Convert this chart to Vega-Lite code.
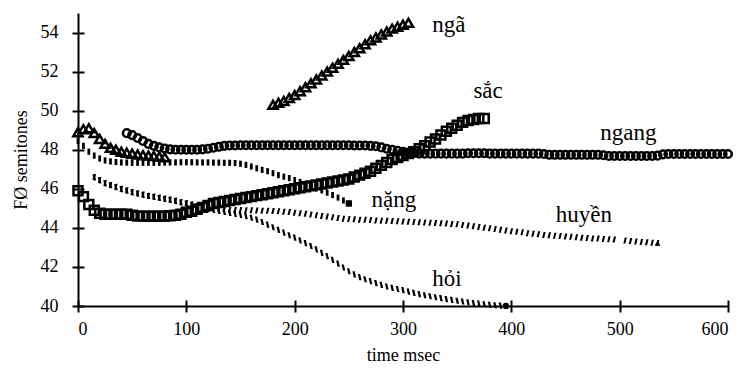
{
  "$schema": "https://vega.github.io/schema/vega-lite/v6.json",
  "width": 650,
  "height": 293,
  "autosize": "none",
  "padding": {"left": 78, "top": 13, "right": 12, "bottom": 63},
  "background": "white",
  "config": {
    "view": {"stroke": null},
    "font": "'Liberation Serif', 'Times New Roman', 'DejaVu Serif', serif"
  },
  "datasets": {
    "ngang": [
      {"t":45,"v":48.85},{"t":50,"v":48.75},{"t":55,"v":48.6},{"t":60,"v":48.45},{"t":65,"v":48.3},{"t":70,"v":48.2},{"t":75,"v":48.12},{"t":80,"v":48.06},{"t":85,"v":48.02},{"t":90,"v":48.0},{"t":95,"v":48.0},{"t":100,"v":48.0},{"t":105,"v":48.0},{"t":110,"v":48.0},{"t":115,"v":48.02},{"t":120,"v":48.05},{"t":125,"v":48.1},{"t":130,"v":48.15},{"t":135,"v":48.2},{"t":140,"v":48.22},{"t":145,"v":48.22},{"t":150,"v":48.23},{"t":155,"v":48.23},{"t":160,"v":48.23},{"t":165,"v":48.23},{"t":170,"v":48.23},{"t":175,"v":48.23},{"t":180,"v":48.23},{"t":185,"v":48.23},{"t":190,"v":48.23},{"t":195,"v":48.23},{"t":200,"v":48.23},{"t":205,"v":48.23},{"t":210,"v":48.23},{"t":215,"v":48.23},{"t":220,"v":48.23},{"t":225,"v":48.23},{"t":230,"v":48.23},{"t":235,"v":48.23},{"t":240,"v":48.23},{"t":245,"v":48.23},{"t":250,"v":48.23},{"t":255,"v":48.22},{"t":260,"v":48.22},{"t":265,"v":48.22},{"t":270,"v":48.2},{"t":275,"v":48.18},{"t":280,"v":48.12},{"t":285,"v":48.05},{"t":290,"v":48.0},{"t":295,"v":47.95},{"t":300,"v":47.9},{"t":305,"v":47.86},{"t":310,"v":47.83},{"t":315,"v":47.8},{"t":320,"v":47.8},{"t":325,"v":47.8},{"t":330,"v":47.8},{"t":335,"v":47.8},{"t":340,"v":47.8},{"t":345,"v":47.8},{"t":350,"v":47.8},{"t":355,"v":47.8},{"t":360,"v":47.82},{"t":365,"v":47.82},{"t":370,"v":47.82},{"t":375,"v":47.82},{"t":380,"v":47.8},{"t":385,"v":47.8},{"t":390,"v":47.8},{"t":395,"v":47.8},{"t":400,"v":47.8},{"t":405,"v":47.8},{"t":410,"v":47.8},{"t":415,"v":47.8},{"t":420,"v":47.8},{"t":425,"v":47.8},{"t":430,"v":47.78},{"t":435,"v":47.74},{"t":440,"v":47.74},{"t":445,"v":47.74},{"t":450,"v":47.74},{"t":455,"v":47.74},{"t":460,"v":47.74},{"t":465,"v":47.74},{"t":470,"v":47.74},{"t":475,"v":47.74},{"t":480,"v":47.74},{"t":485,"v":47.72},{"t":490,"v":47.68},{"t":495,"v":47.68},{"t":500,"v":47.68},{"t":505,"v":47.68},{"t":510,"v":47.68},{"t":515,"v":47.68},{"t":520,"v":47.68},{"t":525,"v":47.68},{"t":530,"v":47.68},{"t":535,"v":47.7},{"t":540,"v":47.76},{"t":545,"v":47.78},{"t":550,"v":47.78},{"t":555,"v":47.78},{"t":560,"v":47.78},{"t":565,"v":47.78},{"t":570,"v":47.78},{"t":575,"v":47.78},{"t":580,"v":47.78},{"t":585,"v":47.78},{"t":590,"v":47.78},{"t":595,"v":47.78},{"t":600,"v":47.78}
    ],
    "nga": [
      {"t":0,"v":48.9},{"t":5,"v":49.05},{"t":10,"v":49.1},{"t":15,"v":48.85},{"t":20,"v":48.55},{"t":25,"v":48.3},{"t":30,"v":48.1},{"t":35,"v":48.0},{"t":40,"v":47.9},{"t":45,"v":47.85},{"t":50,"v":47.8},{"t":55,"v":47.75},{"t":60,"v":47.72},{"t":65,"v":47.7},{"t":70,"v":47.68},{"t":75,"v":47.65},{"t":80,"v":47.62},
      {"t":180,"v":50.3},{"t":185,"v":50.4},{"t":190,"v":50.5},{"t":195,"v":50.65},{"t":200,"v":50.8},{"t":205,"v":51.0},{"t":210,"v":51.2},{"t":215,"v":51.4},{"t":220,"v":51.6},{"t":225,"v":51.8},{"t":230,"v":52.0},{"t":235,"v":52.2},{"t":240,"v":52.4},{"t":245,"v":52.6},{"t":250,"v":52.8},{"t":255,"v":53.0},{"t":260,"v":53.2},{"t":265,"v":53.4},{"t":270,"v":53.6},{"t":275,"v":53.75},{"t":280,"v":53.9},{"t":285,"v":54.05},{"t":290,"v":54.2},{"t":295,"v":54.3},{"t":300,"v":54.4},{"t":305,"v":54.5}
    ],
    "sac": [
      {"t":0,"v":45.9},{"t":5,"v":45.6},{"t":10,"v":45.2},{"t":15,"v":44.9},{"t":20,"v":44.75},{"t":25,"v":44.7},{"t":30,"v":44.7},{"t":35,"v":44.7},{"t":40,"v":44.7},{"t":45,"v":44.7},{"t":50,"v":44.65},{"t":55,"v":44.6},{"t":60,"v":44.6},{"t":65,"v":44.6},{"t":70,"v":44.6},{"t":75,"v":44.6},{"t":80,"v":44.6},{"t":85,"v":44.62},{"t":90,"v":44.65},{"t":95,"v":44.7},{"t":100,"v":44.8},{"t":105,"v":44.85},{"t":110,"v":44.95},{"t":115,"v":45.05},{"t":120,"v":45.15},{"t":125,"v":45.25},{"t":130,"v":45.3},{"t":135,"v":45.35},{"t":140,"v":45.4},{"t":145,"v":45.45},{"t":150,"v":45.5},{"t":155,"v":45.55},{"t":160,"v":45.6},{"t":165,"v":45.65},{"t":170,"v":45.7},{"t":175,"v":45.75},{"t":180,"v":45.8},{"t":185,"v":45.85},{"t":190,"v":45.9},{"t":195,"v":45.95},{"t":200,"v":46.0},{"t":205,"v":46.05},{"t":210,"v":46.1},{"t":215,"v":46.15},{"t":220,"v":46.2},{"t":225,"v":46.25},{"t":230,"v":46.3},{"t":235,"v":46.35},{"t":240,"v":46.4},{"t":245,"v":46.45},{"t":250,"v":46.5},{"t":255,"v":46.6},{"t":260,"v":46.7},{"t":265,"v":46.8},{"t":270,"v":46.9},{"t":275,"v":47.05},{"t":280,"v":47.2},{"t":285,"v":47.35},{"t":290,"v":47.5},{"t":295,"v":47.6},{"t":300,"v":47.7},{"t":305,"v":47.8},{"t":310,"v":47.9},{"t":315,"v":48.05},{"t":320,"v":48.2},{"t":325,"v":48.4},{"t":330,"v":48.55},{"t":335,"v":48.75},{"t":340,"v":48.95},{"t":345,"v":49.1},{"t":350,"v":49.25},{"t":355,"v":49.4},{"t":360,"v":49.5},{"t":365,"v":49.55},{"t":370,"v":49.6},{"t":375,"v":49.6}
    ],
    "nang": [
      {"t":0,"v":48.45},{"t":5,"v":48.2},{"t":10,"v":47.9},{"t":15,"v":47.7},{"t":20,"v":47.55},{"t":25,"v":47.45},{"t":30,"v":47.4},{"t":35,"v":47.37},{"t":40,"v":47.35},{"t":45,"v":47.34},{"t":50,"v":47.33},{"t":55,"v":47.33},{"t":60,"v":47.33},{"t":65,"v":47.33},{"t":70,"v":47.33},{"t":75,"v":47.33},{"t":80,"v":47.34},{"t":85,"v":47.35},{"t":90,"v":47.35},{"t":95,"v":47.36},{"t":100,"v":47.36},{"t":105,"v":47.36},{"t":110,"v":47.35},{"t":115,"v":47.35},{"t":120,"v":47.35},{"t":125,"v":47.34},{"t":130,"v":47.34},{"t":135,"v":47.33},{"t":140,"v":47.33},{"t":145,"v":47.32},{"t":150,"v":47.28},{"t":155,"v":47.22},{"t":160,"v":47.14},{"t":165,"v":47.05},{"t":170,"v":46.97},{"t":175,"v":46.9},{"t":180,"v":46.8},{"t":185,"v":46.7},{"t":190,"v":46.62},{"t":195,"v":46.55},{"t":200,"v":46.45},{"t":205,"v":46.35},{"t":210,"v":46.25},{"t":215,"v":46.15},{"t":220,"v":46.02},{"t":225,"v":45.92},{"t":230,"v":45.8},{"t":235,"v":45.68},{"t":240,"v":45.55},{"t":245,"v":45.4},{"t":250,"v":45.25}
    ],
    "huyen": [
      {"t":15,"v":46.6},{"t":20,"v":46.45},{"t":25,"v":46.3},{"t":30,"v":46.2},{"t":35,"v":46.1},{"t":40,"v":46.0},{"t":45,"v":45.92},{"t":50,"v":45.84},{"t":55,"v":45.77},{"t":60,"v":45.71},{"t":65,"v":45.65},{"t":70,"v":45.6},{"t":75,"v":45.55},{"t":80,"v":45.5},{"t":85,"v":45.45},{"t":90,"v":45.4},{"t":95,"v":45.33},{"t":100,"v":45.27},{"t":105,"v":45.21},{"t":110,"v":45.15},{"t":115,"v":45.1},{"t":120,"v":45.05},{"t":125,"v":45.01},{"t":130,"v":44.98},{"t":135,"v":44.95},{"t":140,"v":44.93},{"t":145,"v":44.92},{"t":150,"v":44.91},{"t":155,"v":44.9},{"t":160,"v":44.9},{"t":165,"v":44.89},{"t":170,"v":44.88},{"t":175,"v":44.87},{"t":180,"v":44.86},{"t":185,"v":44.85},{"t":190,"v":44.83},{"t":195,"v":44.81},{"t":200,"v":44.78},{"t":205,"v":44.75},{"t":210,"v":44.72},{"t":215,"v":44.68},{"t":220,"v":44.65},{"t":225,"v":44.61},{"t":230,"v":44.58},{"t":235,"v":44.54},{"t":240,"v":44.5},{"t":245,"v":44.47},{"t":250,"v":44.45},{"t":255,"v":44.44},{"t":260,"v":44.42},{"t":265,"v":44.41},{"t":270,"v":44.4},{"t":275,"v":44.38},{"t":280,"v":44.37},{"t":285,"v":44.36},{"t":290,"v":44.35},{"t":295,"v":44.34},{"t":300,"v":44.33},{"t":305,"v":44.31},{"t":310,"v":44.3},{"t":315,"v":44.29},{"t":320,"v":44.28},{"t":325,"v":44.26},{"t":330,"v":44.25},{"t":335,"v":44.24},{"t":340,"v":44.22},{"t":345,"v":44.2},{"t":350,"v":44.18},{"t":355,"v":44.15},{"t":360,"v":44.12},{"t":365,"v":44.08},{"t":370,"v":44.05},{"t":375,"v":44.01},{"t":380,"v":43.98},{"t":385,"v":43.94},{"t":390,"v":43.9},{"t":395,"v":43.87},{"t":400,"v":43.83},{"t":405,"v":43.8},{"t":410,"v":43.77},{"t":415,"v":43.73},{"t":420,"v":43.7},{"t":425,"v":43.67},{"t":430,"v":43.64},{"t":435,"v":43.62},{"t":440,"v":43.6},{"t":445,"v":43.58},{"t":450,"v":43.56},{"t":455,"v":43.54},{"t":460,"v":43.52},{"t":465,"v":43.5},{"t":470,"v":43.48},{"t":475,"v":43.46},{"t":480,"v":43.45},{"t":485,"v":43.43},{"t":490,"v":43.42},{"t":495,"v":43.4},{"t":505,"v":43.35},{"t":510,"v":43.33},{"t":515,"v":43.3},{"t":520,"v":43.28},{"t":525,"v":43.26},{"t":530,"v":43.24},{"t":535,"v":43.22}
    ],
    "hoi": [
      {"t":15,"v":46.58},{"t":20,"v":46.43},{"t":25,"v":46.28},{"t":30,"v":46.18},{"t":35,"v":46.08},{"t":40,"v":45.98},{"t":45,"v":45.9},{"t":50,"v":45.82},{"t":55,"v":45.75},{"t":60,"v":45.69},{"t":65,"v":45.63},{"t":70,"v":45.58},{"t":75,"v":45.53},{"t":80,"v":45.48},{"t":85,"v":45.43},{"t":90,"v":45.37},{"t":95,"v":45.3},{"t":100,"v":45.24},{"t":105,"v":45.18},{"t":110,"v":45.12},{"t":115,"v":45.05},{"t":120,"v":44.97},{"t":125,"v":44.92},{"t":130,"v":44.87},{"t":135,"v":44.82},{"t":140,"v":44.77},{"t":145,"v":44.72},{"t":150,"v":44.66},{"t":155,"v":44.6},{"t":160,"v":44.52},{"t":165,"v":44.42},{"t":170,"v":44.3},{"t":175,"v":44.17},{"t":180,"v":44.03},{"t":185,"v":43.9},{"t":190,"v":43.76},{"t":195,"v":43.62},{"t":200,"v":43.5},{"t":205,"v":43.36},{"t":210,"v":43.22},{"t":215,"v":43.07},{"t":220,"v":42.9},{"t":225,"v":42.72},{"t":230,"v":42.55},{"t":235,"v":42.36},{"t":240,"v":42.17},{"t":245,"v":41.97},{"t":250,"v":41.78},{"t":255,"v":41.62},{"t":260,"v":41.48},{"t":265,"v":41.37},{"t":270,"v":41.27},{"t":275,"v":41.17},{"t":280,"v":41.08},{"t":285,"v":41.0},{"t":290,"v":40.93},{"t":295,"v":40.87},{"t":300,"v":40.81},{"t":305,"v":40.74},{"t":310,"v":40.67},{"t":315,"v":40.61},{"t":320,"v":40.55},{"t":325,"v":40.5},{"t":330,"v":40.45},{"t":335,"v":40.4},{"t":340,"v":40.35},{"t":345,"v":40.31},{"t":350,"v":40.27},{"t":355,"v":40.23},{"t":360,"v":40.19},{"t":365,"v":40.15},{"t":370,"v":40.12},{"t":375,"v":40.09},{"t":380,"v":40.06},{"t":385,"v":40.04},{"t":390,"v":40.02},{"t":395,"v":40.0}
    ],
    "labels": [
      {"label":"ngã","t":327,"v":54.4},
      {"label":"sắc","t":365,"v":51.0},
      {"label":"ngang","t":482,"v":48.85},
      {"label":"nặng","t":271,"v":45.45},
      {"label":"huyền","t":441,"v":44.65},
      {"label":"hỏi","t":327,"v":41.4}
    ]
  },
  "resolve": {"axis": {"x": "independent", "y": "independent"}},
  "layer": [
    {
      "data": {"name": "ngang"},
      "mark": {"type": "point", "shape": "circle", "filled": false, "stroke": "black", "strokeWidth": 2.5, "size": 58, "opacity": 1},
      "encoding": {
        "x": {"field": "t", "type": "quantitative", "scale": {"domain": [0, 600], "nice": false, "zero": false},
          "axis": {"values": [0,100,200,300,400,500,600], "title": "time msec", "grid": false, "domainColor": "black", "domainWidth": 2, "tickColor": "black", "tickWidth": 2, "tickSize": 6, "labelFont": "'Liberation Serif', 'Times New Roman', serif", "labelFontSize": 18, "labelColor": "black", "labelPadding": 8, "titleFont": "'Liberation Serif', 'Times New Roman', serif", "titleFontSize": 18, "titleFontWeight": "normal", "titleColor": "black", "titlePadding": 8}},
        "y": {"field": "v", "type": "quantitative", "scale": {"domain": [40, 55], "nice": false, "zero": false},
          "axis": {"values": [40,42,44,46,48,50,52,54], "title": "FØ semitones", "grid": false, "domainColor": "black", "domainWidth": 2, "tickColor": "black", "tickWidth": 2, "tickSize": 6, "labelFont": "'Liberation Serif', 'Times New Roman', serif", "labelFontSize": 18, "labelColor": "black", "labelPadding": 14, "titleFont": "'Liberation Serif', 'Times New Roman', serif", "titleFontSize": 18, "titleFontWeight": "normal", "titleColor": "black", "titlePadding": 10}}
      }
    },
    {
      "data": {"name": "nga"},
      "mark": {"type": "point", "shape": "triangle-up", "filled": false, "stroke": "black", "strokeWidth": 2.5, "size": 85, "opacity": 1},
      "encoding": {
        "x": {"field": "t", "type": "quantitative", "scale": {"domain": [0, 600], "nice": false, "zero": false},
          "axis": {"orient": "bottom", "values": [0,100,200,300,400,500,600], "title": null, "labels": false, "domain": false, "grid": false, "tickColor": "black", "tickWidth": 2, "tickSize": -6}},
        "y": {"field": "v", "type": "quantitative", "scale": {"domain": [40, 55], "nice": false, "zero": false},
          "axis": {"orient": "left", "values": [40,42,44,46,48,50,52,54], "title": null, "labels": false, "domain": false, "grid": false, "tickColor": "black", "tickWidth": 2, "tickSize": -6}}
      }
    },
    {
      "data": {"name": "sac"},
      "mark": {"type": "point", "shape": "square", "filled": false, "stroke": "black", "strokeWidth": 2.5, "size": 80, "opacity": 1},
      "encoding": {
        "x": {"field": "t", "type": "quantitative", "axis": null},
        "y": {"field": "v", "type": "quantitative", "axis": null}
      }
    },
    {
      "data": {"name": "nang"},
      "mark": {"type": "point", "shape": "M-0.45,-1H0.45V1H-0.45Z", "filled": true, "color": "black", "size": 38, "opacity": 1},
      "encoding": {
        "x": {"field": "t", "type": "quantitative", "axis": null},
        "y": {"field": "v", "type": "quantitative", "axis": null}
      }
    },
    {
      "data": {"name": "nang"},
      "transform": [{"filter": "datum.t == 250"}],
      "mark": {"type": "point", "shape": "square", "filled": true, "color": "black", "size": 40, "opacity": 1},
      "encoding": {
        "x": {"field": "t", "type": "quantitative", "axis": null},
        "y": {"field": "v", "type": "quantitative", "axis": null}
      }
    },
    {
      "data": {"name": "huyen"},
      "mark": {"type": "point", "shape": "M-0.1,-1H0.6L0.1,1H-0.6Z", "filled": true, "color": "black", "size": 36, "opacity": 1},
      "encoding": {
        "x": {"field": "t", "type": "quantitative", "axis": null},
        "y": {"field": "v", "type": "quantitative", "axis": null}
      }
    },
    {
      "data": {"name": "huyen"},
      "transform": [{"filter": "datum.t == 535"}],
      "mark": {"type": "point", "shape": "triangle-up", "filled": true, "color": "black", "size": 34, "opacity": 1},
      "encoding": {
        "x": {"field": "t", "type": "quantitative", "axis": null},
        "y": {"field": "v", "type": "quantitative", "axis": null}
      }
    },
    {
      "data": {"name": "hoi"},
      "mark": {"type": "point", "shape": "M-0.6,-1H0.15L0.6,1H-0.15Z", "filled": true, "color": "black", "size": 38, "opacity": 1},
      "encoding": {
        "x": {"field": "t", "type": "quantitative", "axis": null},
        "y": {"field": "v", "type": "quantitative", "axis": null}
      }
    },
    {
      "data": {"name": "hoi"},
      "transform": [{"filter": "datum.t == 395"}],
      "mark": {"type": "point", "shape": "circle", "filled": true, "color": "black", "size": 40, "opacity": 1},
      "encoding": {
        "x": {"field": "t", "type": "quantitative", "axis": null},
        "y": {"field": "v", "type": "quantitative", "axis": null}
      }
    },
    {
      "data": {"name": "labels"},
      "mark": {"type": "text", "align": "left", "baseline": "middle", "font": "'Liberation Serif', 'Times New Roman', serif", "fontSize": 23, "color": "black"},
      "encoding": {
        "x": {"field": "t", "type": "quantitative", "axis": null},
        "y": {"field": "v", "type": "quantitative", "axis": null},
        "text": {"field": "label"}
      }
    }
  ]
}
